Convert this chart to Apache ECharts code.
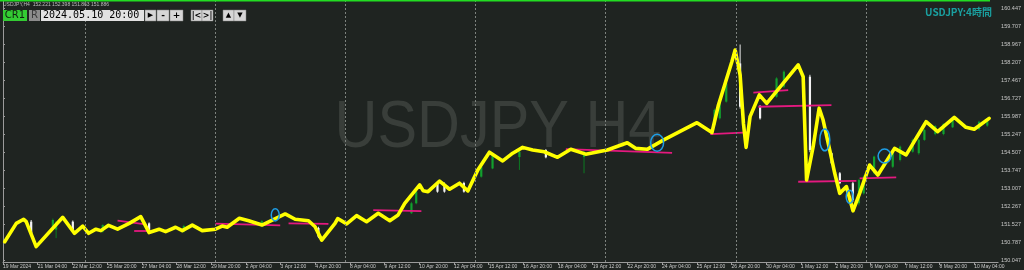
<!DOCTYPE html>
<html>
<head>
<meta charset="utf-8">
<script src="https://cdn.jsdelivr.net/npm/echarts@6/dist/echarts.min.js"></script>
<style>
html,body{margin:0;padding:0;background:#1f2421;}
#c{width:1024px;height:270px;}
</style>
</head>
<body>
<div id="c"></div>
<script>
// ---- data ----
const timeLabels = ['19 Mar 2024','21 Mar 04:00','22 Mar 12:00','25 Mar 20:00','27 Mar 04:00','28 Mar 12:00','29 Mar 20:00','2 Apr 04:00','3 Apr 12:00','4 Apr 20:00','8 Apr 04:00','9 Apr 12:00','10 Apr 20:00','12 Apr 04:00','15 Apr 12:00','16 Apr 20:00','18 Apr 04:00','19 Apr 12:00','22 Apr 20:00','24 Apr 04:00','25 Apr 12:00','26 Apr 20:00','30 Apr 04:00','1 May 12:00','2 May 20:00','6 May 04:00','7 May 12:00','8 May 20:00','10 May 04:00'];
const priceTicks = [150.047,150.787,151.527,152.267,153.007,153.747,154.507,155.247,155.987,156.727,157.467,158.207,158.967,159.707,160.447];
const weekStarts = [19,49,79,109,139,169,199];
const lastPrice = 151.886;
// yellow hand-drawn line: [bar index, price]
const zigzag = [
 [0.39,150.80],[3.06,151.56],[4.76,151.73],[5.35,151.63],[7.65,150.60],[13.78,151.81],[16.47,151.15],[18.38,151.45],
 [19.76,151.15],[21.43,151.32],[22.58,151.26],[24.35,151.48],[26.42,151.32],[29.11,151.56],[31.77,151.84],[33.70,151.18],
 [36.0,151.32],[37.51,151.22],[39.81,151.40],[41.35,151.26],[43.65,151.49],[45.95,151.26],[49.0,151.32],[50.54,151.45],
 [51.69,151.40],[54.51,151.77],[56.67,151.67],[59.73,151.49],[65.08,151.95],[67.38,151.73],[70.46,151.67],[71.97,151.42],
 [73.51,150.87],[76.57,151.56],[77.19,151.76],[79.26,151.54],[81.55,151.88],[83.85,151.63],[86.54,151.98],[89.20,151.67],
 [91.13,151.91],[92.65,152.39],[96.10,153.15],[96.88,152.91],[98.02,152.87],[100.69,153.31],[102.99,152.97],[105.28,153.22],
 [107.21,152.90],[109.51,153.77],[112.18,154.50],[115.25,154.14],[117.55,154.46],[119.85,154.70],[122.15,154.59],[124.81,154.52],
 [127.89,154.29],[130.94,154.62],[134.39,154.42],[139.37,154.59],[143.97,154.89],[145.88,154.66],[148.56,154.62],[152.38,155.01],
 [160.05,155.72],[163.50,155.31],[165.0,156.45],[168.09,158.24],[168.85,158.72],[170.0,157.69],[170.76,155.70],[171.38,154.70],
 [172.29,155.97],[174.43,156.87],[176.13,156.52],[183.39,158.11],[184.54,157.62],[185.32,153.35],[186.84,154.73],[188.22,156.32],
 [189.14,155.83],[190.67,154.59],[191.82,153.63],[192.97,152.80],[194.51,153.08],[196.03,152.08],[197.56,152.80],[199.86,153.97],
 [201.77,153.56],[205.61,154.66],[208.29,154.39],[212.89,155.76],[215.55,155.35],[219.39,155.94],[222.08,155.53],[223.99,155.45],
 [227.43,155.90]
];
// visible candles: [bar index, open, close, low, high]
const candles = [
 [6.5,151.63,151.15,151.10,151.70],[11.5,151.42,151.70,151.38,151.76],[12.25,151.30,151.60,150.95,151.66],
 [16.1,151.63,151.29,151.25,151.68],[23.0,151.22,151.49,151.18,151.52],[33.7,151.56,151.29,151.25,151.60],
 [41.7,151.22,151.45,151.18,151.50],[59.7,151.45,151.65,151.40,151.70],[72.75,151.37,151.01,150.95,151.42],
 [94.2,151.98,152.39,151.95,152.45],[95.3,152.39,152.87,152.35,152.92],[100.2,153.19,152.87,152.83,153.25],
 [101.8,153.19,152.87,152.83,153.25],[106.3,153.23,152.87,152.83,153.28],[110.3,153.49,153.90,153.45,153.95],
 [112.9,153.83,154.38,153.80,154.42],[119.1,154.30,154.52,153.77,154.56],[125.2,154.59,154.29,154.25,154.63],
 [134.0,154.30,154.52,153.63,154.56],
 [164.1,155.62,156.25,155.58,156.30],[165.3,155.90,156.66,155.85,156.70],[166.8,156.59,157.35,156.55,157.40],
 [170.0,158.17,156.38,156.30,158.95],[174.6,156.38,155.90,155.85,156.45],[178.4,156.79,157.55,156.75,157.60],
 [180.1,157.21,157.83,157.15,157.88],[186.1,157.62,154.59,154.50,157.70],[191.1,154.46,154.04,154.00,154.50],
 [193.0,153.63,153.22,153.18,153.68],[196.0,153.22,152.53,152.45,153.28],[197.4,152.39,153.35,152.30,153.40],
 [198.5,152.80,153.49,152.75,153.55],[200.9,153.63,154.32,153.58,154.36],[205.2,153.90,154.46,153.85,154.50],
 [206.9,154.18,154.73,154.12,154.78],[209.8,154.52,155.01,154.48,155.06],[211.2,154.46,155.01,154.40,155.05],
 [212.5,155.01,155.42,154.97,155.46],[215.0,155.25,155.58,155.20,155.62],[216.9,155.25,155.67,155.20,155.70],
 [219.0,155.53,155.83,155.50,155.87],[225.1,155.45,155.76,155.40,155.80],[227.0,155.60,155.88,155.55,155.92]
];
// pink level lines: [startIndex, startPrice, endIndex, endPrice]
const levels = [
 [26.42,151.67,32.92,151.52],[30.25,151.25,35.22,151.25],[49.0,151.55,63.93,151.48],[65.86,151.56,75.05,151.54],
 [85.39,152.11,96.49,152.07],[129.80,154.63,154.31,154.47],[163.11,155.25,171.91,155.32],[173.05,156.96,181.09,157.07],
 [174.20,156.38,191.06,156.45],[183.39,153.28,196.81,153.32],[197.56,153.42,206.00,153.46]
];
// blue ellipses: [centerIndex, centerPrice, radiusBars, radiusPrice]
const circles = [
 [62.79,151.91,0.92,0.25],[150.86,154.89,1.49,0.35],[189.53,155.01,1.15,0.45],[195.27,152.66,0.8,0.27],[203.31,154.34,1.49,0.29]
];

const chart = echarts.init(document.getElementById('c'), null, {renderer:'canvas'});
const lblColor = '#c9c9c9';
const axisColor = '#9b9b9b';
const font = 'Liberation Sans';

function btn(x, w, txt, fill, tcol, fs){
  return [
    {type:'rect', shape:{x:x, y:10, width:w, height:11}, style:{fill:fill, stroke:'#808080', lineWidth:0.5}, z:100},
    {type:'text', x:x+w/2, y:15.5, style:{text:txt, fill:tcol, font:'bold '+fs+'px "DejaVu Sans"', align:'center', verticalAlign:'middle'}, z:101}
  ];
}

const graphics = [].concat(
  [{type:'rect', shape:{x:0,y:0,width:990,height:1.5}, style:{fill:'#22dd22'}, z:100},
   {type:'text', x:3, y:5, style:{text:'USDJPY,H4  152.221 152.398 151.863 151.886', fill:'#bdbdbd', font:'5px "Liberation Sans"', verticalAlign:'middle'}, z:100},
   {type:'text', x:498, y:129, scaleX:0.9, style:{text:'USDJPY H4', fill:'#393e3a', font:'66px "Liberation Sans"', align:'center', verticalAlign:'middle'}, z:0, zlevel:0},
   {type:'text', x:992, y:12, style:{text:'USDJPY:4時間', fill:'#1aa0a0', font:'bold 10px "Noto Sans CJK JP"', align:'right', verticalAlign:'middle'}, z:100},
   {type:'rect', shape:{x:3,y:10,width:24,height:11}, style:{fill:'#33cc33'}, z:100},
   {type:'text', x:15, y:15.5, style:{text:'CR1', fill:'#102010', font:'10px "DejaVu Sans"', align:'center', verticalAlign:'middle'}, z:101},
   {type:'rect', shape:{x:29,y:10,width:11,height:11}, style:{fill:'#8c8c8c'}, z:100},
   {type:'text', x:34.5, y:15.5, style:{text:'R', fill:'#3a3a3a', font:'10px "DejaVu Sans"', align:'center', verticalAlign:'middle'}, z:101},
   {type:'rect', shape:{x:41,y:10,width:103,height:11}, style:{fill:'#e2e2e2'}, z:100},
   {type:'text', x:43, y:15.5, style:{text:'2024.05.10 20:00', fill:'#000', font:'10px "DejaVu Sans Mono"', verticalAlign:'middle'}, z:101}
  ],
  btn(145,11,'▶','#d6d6d6','#000',7),
  btn(157,12,'-','#d6d6d6','#000',9),
  btn(170,13,'+','#d6d6d6','#000',9),
  btn(191,11,'|<','#d6d6d6','#000',8),
  btn(202,11,'>|','#d6d6d6','#000',8),
  btn(223,11,'▲','#d6d6d6','#000',7),
  btn(234,12,'▼','#d6d6d6','#000',7)
);

const option = {
  backgroundColor:'#1f2421',
  animation:false,
  grid:{left:0, right:25, top:0, bottom:8},
  xAxis:{
    type:'value', min:0, max:229.5, interval:8,
    axisLine:{show:true, lineStyle:{color:axisColor, width:1}},
    axisTick:{show:true, length:3, lineStyle:{color:axisColor}},
    splitLine:{show:false},
    axisLabel:{show:true, showMaxLabel:false, color:lblColor, fontSize:5, fontFamily:font, align:'left', margin:2,
      formatter:function(v){const k=Math.round(v/8); return (Math.abs(v-k*8)<1e-6 && timeLabels[k]) ? timeLabels[k] : '';}}
  },
  yAxis:{
    type:'value', position:'right', min:149.964, max:160.79, scale:true,
    axisLine:{show:true, lineStyle:{color:axisColor, width:1}},
    axisTick:{show:true, length:2, customValues:priceTicks, lineStyle:{color:axisColor}},
    splitLine:{show:false},
    axisLabel:{show:true, customValues:priceTicks, color:lblColor, fontSize:5.5, fontFamily:font, margin:3,
      formatter:function(v){return v.toFixed(3);}}
  },
  graphic:{elements:graphics},
  series:[
    {type:'line', data:[], silent:true,
     markLine:{silent:true, symbol:'none', animation:false,
       data:weekStarts.map(function(w){return {xAxis:w};}),
       lineStyle:{type:[2,2], color:'#7d827e', width:1}, label:{show:false}}},
    {type:'line', data:[], silent:true,
     markLine:{silent:true, symbol:'none', animation:false,
       data:[{yAxis:lastPrice}],
       lineStyle:{opacity:0},
       label:{show:true, position:'end', distance:1, formatter:lastPrice.toFixed(3), color:'#111', backgroundColor:'#c8c8c8', fontSize:5.5, fontFamily:font, padding:[1,2,1,2]}}},
    {type:'custom', data:candles, silent:true, z:2, encode:{x:0, y:[1,2,3,4]},
     renderItem:function(params, api){
       const x = api.value(0), o = api.value(1), c = api.value(2), l = api.value(3), h = api.value(4);
       const bull = c >= o;
       const col = bull ? '#12a02e' : '#f2f2f2';
       const wick = bull ? '#0c7a22' : '#e8e8e8';
       const pH = api.coord([x, h]), pL = api.coord([x, l]);
       const pT = api.coord([x, Math.max(o, c)]), pB = api.coord([x, Math.min(o, c)]);
       return {type:'group', children:[
         {type:'line', shape:{x1:pH[0], y1:pH[1], x2:pL[0], y2:pL[1]}, style:{stroke:wick, lineWidth:1}},
         {type:'rect', shape:{x:pT[0]-1.1, y:pT[1], width:2.2, height:Math.max(1, pB[1]-pT[1])}, style:{fill:col}}
       ]};
     }},
    {type:'lines', coordinateSystem:'cartesian2d', silent:true, z:3,
     data:levels.map(function(l){return {coords:[[l[0],l[1]],[l[2],l[3]]]};}),
     lineStyle:{color:'#e4197f', width:1.8, opacity:1}},
    {type:'line', data:zigzag, symbol:'none', silent:true, z:4,
     lineStyle:{color:'#ffff00', width:3.6, cap:'round', join:'round'}},
    {type:'custom', data:circles, silent:true, z:5, encode:{x:0, y:1},
     renderItem:function(params, api){
       const c = api.coord([api.value(0), api.value(1)]);
       const s = api.size([api.value(2), api.value(3)]);
       return {type:'ellipse', shape:{cx:c[0], cy:c[1], rx:s[0], ry:s[1]}, style:{fill:'none', stroke:'#1e9ee6', lineWidth:1.5}};
     }}
  ]
};
chart.setOption(option);
</script>
</body>
</html>
